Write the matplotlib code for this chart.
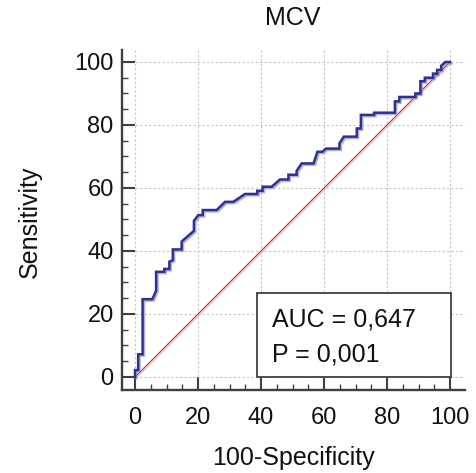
import matplotlib
matplotlib.use("Agg")
import matplotlib.pyplot as plt
import matplotlib.patheffects as pe
from matplotlib.patches import Rectangle

plt.rcParams['font.family'] = ['Liberation Sans', 'DejaVu Sans']

title = "MCV"
xlabel = "100-Specificity"
ylabel = "Sensitivity"
auc_text = "AUC = 0,647"
p_text = "P = 0,001"
ticks = [0, 20, 40, 60, 80, 100]

fpr = [0, 0, 1.0, 1.0, 2.4, 2.4, 5.5, 6.7, 6.7, 9.3, 9.3, 10.9, 10.9, 12.0, 12.0,
       14.8, 14.8, 18.7, 18.7, 20.1, 21.5, 21.5, 25.9, 28.6, 31.2, 34.9, 38.8, 38.8,
       40.5, 40.5, 43.4, 46.0, 48.7, 48.7, 51.3, 51.3, 52.9, 56.7, 57.9, 59.5, 60.6,
       64.9, 64.9, 66.3, 70.4, 70.4, 71.7, 71.7, 75.9, 75.9, 82.5, 82.5, 83.9, 83.9,
       89.0, 89.0, 90.6, 90.6, 92.0, 92.0, 94.6, 94.6, 95.9, 95.9, 97.2, 97.2, 98.5, 100]
tpr = [0, 2.2, 2.2, 7.2, 7.2, 24.7, 24.7, 27.4, 33.4, 33.4, 34.3, 34.3, 36.6, 37.1, 40.5,
       40.5, 43.0, 46.4, 49.6, 51.4, 51.4, 53.0, 53.0, 55.6, 55.6, 58.1, 58.1, 59.1,
       59.1, 60.4, 60.4, 62.7, 62.7, 64.2, 64.2, 65.4, 67.8, 67.8, 71.5, 71.5, 72.5,
       72.5, 74.2, 76.3, 76.3, 78.9, 78.9, 83.2, 83.2, 83.9, 83.9, 87.5, 87.5, 88.9,
       88.9, 90.0, 90.0, 93.9, 93.9, 95.0, 95.0, 96.3, 96.3, 97.5, 97.5, 98.8, 100, 100]

W, H = 476, 473
fig = plt.figure(figsize=(W / 100, H / 100), dpi=100)
ax = fig.add_axes([122 / W, 83 / H, 343 / W, 340 / H])

ax.set_xlim(-4.13, 104.76)
ax.set_ylim(-4.13, 103.8)

spine_col = '#404040'
for s in ['top', 'right']:
    ax.spines[s].set_visible(False)
for s in ['left', 'bottom']:
    ax.spines[s].set_color(spine_col)
    ax.spines[s].set_linewidth(1.7)

ax.set_xticks(ticks)
ax.set_yticks(ticks)
ax.set_xticks(list(range(0, 101, 5)), minor=True)
ax.set_yticks(list(range(0, 101, 5)), minor=True)
ax.tick_params(which='major', direction='in', length=9.2, width=1.5, color=spine_col,
               labelsize=17, labelcolor='#111111')
ax.tick_params(axis='x', which='major', pad=12)
ax.tick_params(axis='y', which='major', pad=6)
ax.tick_params(which='minor', direction='in', length=4.5, width=1.0, color=spine_col)

ax.grid(True, which='major', color='#c4c4c4', linewidth=0.8, linestyle=(0, (2, 2)))
ax.set_axisbelow(True)

# diagonal reference
ax.plot([0, 100], [0, 100], color='#c03030', linewidth=0.8, zorder=2,
        path_effects=[pe.SimpleLineShadow(offset=(0.8, -0.8), shadow_color='#e0a0a0', alpha=0.8),
                      pe.Normal()])

# ROC curve
ax.plot(fpr, tpr, color='#2e3192', linewidth=1.8, zorder=3, clip_on=False,
        solid_joinstyle='miter',
        path_effects=[pe.SimpleLineShadow(offset=(1.0, -1.0), shadow_color='#8f8fd0', alpha=0.7),
                      pe.Normal()])

# info box
ax.add_patch(Rectangle((38.8, 0), 100.2 - 38.8, 26.7, facecolor='white',
                       edgecolor=spine_col, linewidth=1.3, zorder=4))
ax.text(43.4, 16.0, auc_text, fontsize=18, va='baseline', ha='left', zorder=5, color='#111111')
ax.text(43.4, 4.9, p_text, fontsize=18, va='baseline', ha='left', zorder=5, color='#111111')

fig.text(293 / W, 1 - 18 / H, title, fontsize=18, ha='center', va='center', color='#111111')
fig.text(293 / W, 1 - 458 / H, xlabel, fontsize=18, ha='center', va='center', color='#111111')
fig.text(30 / W, 1 - 222 / H, ylabel, fontsize=18, ha='center', va='center', rotation=90,
         color='#111111')

fig.savefig('out.png', dpi=100, facecolor='white')
